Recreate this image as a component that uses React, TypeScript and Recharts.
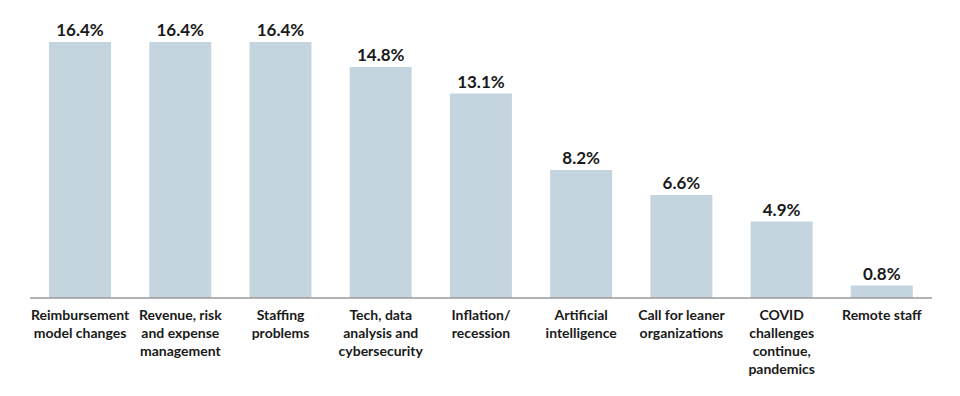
import React from "react";
import { BarChart, Bar, XAxis, YAxis, LabelList } from "recharts";

const categories = [
  "Reimbursement|model changes",
  "Revenue, risk|and expense|management",
  "Staffing|problems",
  "Tech, data|analysis and|cybersecurity",
  "Inflation/|recession",
  "Artificial|intelligence",
  "Call for leaner|organizations",
  "COVID|challenges|continue,|pandemics",
  "Remote staff",
];
const values = [16.4, 16.4, 16.4, 14.8, 13.1, 8.2, 6.6, 4.9, 0.8];

const data = categories.map((c, i) => ({ name: c, value: values[i] }));

const FONT = "Lato, 'Noto Sans', sans-serif";

const Tick = (props: any) => {
  const { x, y, payload } = props;
  const lines = String(payload.value).split("|");
  return (
    <text x={x} y={y} textAnchor="middle" fontFamily={FONT} fontWeight={700} fontSize={14} fill="#1a1a1a">
      {lines.map((l: string, i: number) => (
        <tspan key={i} x={x} dy={i === 0 ? 14 : 18}>{l}</tspan>
      ))}
    </text>
  );
};

export default function App() {
  return (
    <div style={{ position: "absolute", left: 0, top: 0, background: "#fff" }}>
      <BarChart
        width={960}
        height={396}
        data={data}
        margin={{ top: 42, right: 28, bottom: 0, left: 30 }}
        barCategoryGap="19%"
      >
        <XAxis
          dataKey="name"
          interval={0}
          tickLine={false}
          axisLine={{ stroke: "#9a9a9a", strokeWidth: 1.5 }}
          height={98}
          tick={<Tick />}
        />
        <YAxis hide domain={[0, 16.4]} />
        <Bar dataKey="value" fill="#c5d5e0" isAnimationActive={false}>
          <LabelList
            dataKey="value"
            position="top"
            offset={6}
            formatter={(v: any) => `${Number(v).toFixed(1)}%`}
            style={{ fontFamily: FONT, fontWeight: 700, fontSize: 17, fill: "#1a1a1a" }}
          />
        </Bar>
      </BarChart>
    </div>
  );
}
